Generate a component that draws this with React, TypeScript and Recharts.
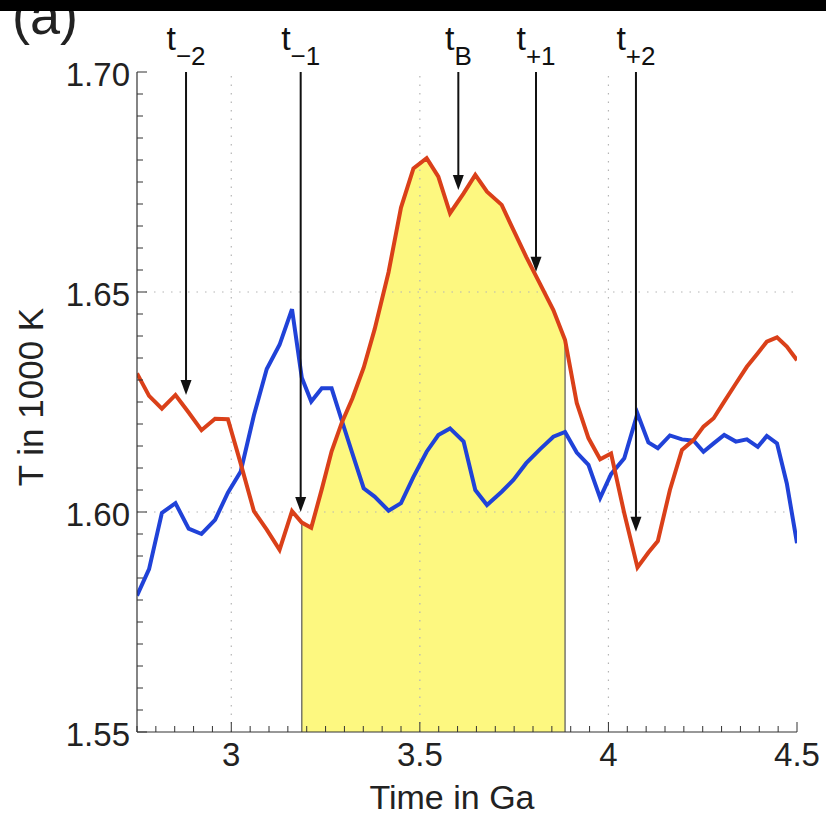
import React from "react";
import { ComposedChart, Line, Area, XAxis, YAxis, ReferenceLine } from "recharts";

// time in Ga (samples are not evenly spaced)
const time = [
  2.75, 2.782, 2.816, 2.852, 2.887, 2.921, 2.957, 2.991, 3.025, 3.06,
  3.094, 3.128, 3.161, 3.187, 3.212, 3.24, 3.266, 3.293, 3.321, 3.351,
  3.38, 3.417, 3.45, 3.483, 3.518, 3.549, 3.58, 3.616, 3.647, 3.678,
  3.717, 3.748, 3.782, 3.819, 3.854, 3.885, 3.916, 3.947, 3.978, 4.007,
  4.042, 4.077, 4.106, 4.131, 4.163, 4.195, 4.226, 4.252, 4.279, 4.307,
  4.338, 4.367, 4.396, 4.42, 4.447, 4.473, 4.5,
];

// T in 1000 K
const redT = [
  1.6315, 1.6264, 1.6235, 1.6266, 1.6226, 1.6186, 1.6212, 1.6211, 1.611, 1.6002,
  1.596, 1.5914, 1.6002, 1.5976, 1.5964, 1.6052, 1.6138, 1.6203, 1.6258, 1.6328,
  1.6415, 1.6545, 1.6692, 1.6781, 1.6804, 1.6762, 1.6679, 1.6724, 1.6766, 1.6728,
  1.6698, 1.6641, 1.658, 1.6518, 1.6459, 1.6391, 1.6248, 1.6168, 1.612, 1.6133,
  1.5997, 1.5874, 1.5908, 1.5934, 1.605, 1.6141, 1.6164, 1.6194, 1.6213, 1.6251,
  1.6292, 1.633, 1.6361, 1.6387, 1.6397, 1.6376, 1.6345,
];

const blueT = [
  1.581, 1.587, 1.5998, 1.602, 1.5962, 1.595, 1.5982, 1.6044, 1.6092, 1.622,
  1.6325, 1.638, 1.6461, 1.6305, 1.6251, 1.6281, 1.6281, 1.6208, 1.6133, 1.6054,
  1.6035, 1.6003, 1.602, 1.608, 1.6137, 1.6175, 1.619, 1.616, 1.605, 1.6016,
  1.6046, 1.6073, 1.6111, 1.6143, 1.6171, 1.6182, 1.6135, 1.6107, 1.6032, 1.6086,
  1.6122, 1.6224, 1.6158, 1.6145, 1.6174, 1.6165, 1.6162, 1.6137, 1.6156, 1.6175,
  1.616, 1.6165, 1.6148, 1.6173, 1.6156, 1.6065, 1.5929,
];

// shaded interval
const bandStart = 3.187;
const bandEnd = 3.885;

// arrows
const arrowLabels = ["\u22122", "\u22121", "B", "+1", "+2"];
const arrowTime = [2.88, 3.184, 3.602, 3.808, 4.073];
const arrowTipT = [1.6266, 1.6, 1.6732, 1.6546, 1.5955];

const xDomain = [2.75, 4.5];
const yDomain = [1.55, 1.7];
const xGrid = [3, 3.5, 4];
const yGrid = [1.6, 1.65];

const xTicks = Array.from({ length: 36 }, (_, i) => Math.round((2.75 + i * 0.05) * 1000) / 1000);
const yTicks = Array.from({ length: 31 }, (_, i) => Math.round((1.55 + i * 0.005) * 1000) / 1000);

const data = time.map((t, i) => ({
  t,
  red: redT[i],
  blue: blueT[i],
  band: t >= bandStart - 1e-9 && t <= bandEnd + 1e-9 ? redT[i] : null,
}));

const FONT = "'Liberation Sans', Arial, Helvetica, sans-serif";
const AXIS = "#333";
const RED = "#da4019";
const BLUE = "#2042d8";

const isMajorX = (v: number) => Math.abs(v * 2 - Math.round(v * 2)) < 1e-6;
const isMajorY = (v: number) => Math.abs(v * 20 - Math.round(v * 20)) < 1e-6;

const BottomTick = (props: any) => {
  const { x, y, payload } = props;
  const v = payload.value;
  const major = isMajorX(v);
  return (
    <g>
      <line x1={x} y1={y} x2={x} y2={y - (major ? 10 : 6)} stroke={AXIS} strokeWidth={1} />
      {major && v > 2.76 && (
        <text x={x} y={y + 11} dy="0.71em" textAnchor="middle" fontSize={33} fontFamily={FONT} fill="#222">
          {String(v)}
        </text>
      )}
    </g>
  );
};

const TopTick = (props: any) => {
  const { x, y, payload } = props;
  const major = isMajorX(payload.value);
  return <line x1={x} y1={y} x2={x} y2={y + (major ? 10 : 6)} stroke={AXIS} strokeWidth={1} />;
};

const LeftTick = (props: any) => {
  const { x, y, payload } = props;
  const v = payload.value;
  const major = isMajorY(v);
  return (
    <g>
      <line x1={x} y1={y} x2={x + (major ? 10 : 6)} y2={y} stroke={AXIS} strokeWidth={1} />
      {major && (
        <text x={x - 7} y={y + 2} dy="0.355em" textAnchor="end" fontSize={33} fontFamily={FONT} fill="#222">
          {v.toFixed(2)}
        </text>
      )}
    </g>
  );
};

const RightTick = (props: any) => {
  const { x, y, payload } = props;
  const major = isMajorY(payload.value);
  return <line x1={x} y1={y} x2={x - (major ? 10 : 6)} y2={y} stroke={AXIS} strokeWidth={1} />;
};

const YLabel = (props: any) => {
  const vb = props.viewBox || { x: 0, y: 72, width: 137, height: 660 };
  const cx = vb.x + 30;
  const cy = vb.y + vb.height / 2 - 5;
  return (
    <text
      x={cx}
      y={cy}
      transform={`rotate(-90 ${cx} ${cy})`}
      textAnchor="middle"
      dominantBaseline="central"
      fontSize={35}
      fontFamily={FONT}
      fill="#222"
    >
      T in 1000 K
    </text>
  );
};

const arrowShape = (sub: string) => (props: any) => {
  const { x1, y1, x2, y2 } = props;
  return (
    <g>
      <line x1={x1} y1={y1} x2={x2} y2={y2 - 12} stroke="#111" strokeWidth={2} />
      <polygon points={`${x2},${y2} ${x2 - 5.5},${y2 - 15} ${x2 + 5.5},${y2 - 15}`} fill="#111" />
      <text x={x1} y={y1 - 22} textAnchor="middle" fontFamily={FONT} fill="#111">
        <tspan fontSize={34}>t</tspan>
        <tspan fontSize={26} dy={15}>{sub}</tspan>
      </text>
    </g>
  );
};

export default function App() {
  const redAtStart = redT[time.indexOf(bandStart)];
  const redAtEnd = redT[time.indexOf(bandEnd)];
  return (
    <div style={{ position: "absolute", left: 0, top: 0, width: 826, height: 817, background: "#fff", overflow: "hidden" }}>
      <div
        style={{
          position: "absolute",
          left: 12,
          top: -15,
          fontFamily: FONT,
          fontSize: 54,
          lineHeight: "60px",
          color: "#222",
        }}
      >
        (a)
      </div>
      <div style={{ position: "absolute", left: 0, top: 0, width: 826, height: 11, background: "#000", zIndex: 1 }} />
      <div style={{ position: "absolute", left: 0, top: 0 }}>
        <ComposedChart width={826} height={817} data={data} margin={{ top: 72, right: 29, left: 0, bottom: 0 }}>
          {xGrid.map((g) => (
            <ReferenceLine key={"gx" + g} x={g} stroke="#b5b5b5" strokeWidth={1.2} strokeDasharray="1.5 7" />
          ))}
          {yGrid.map((g) => (
            <ReferenceLine key={"gy" + g} y={g} stroke="#b5b5b5" strokeWidth={1.2} strokeDasharray="1.5 7" />
          ))}
          <Area
            type="linear"
            dataKey="band"
            fill="#fdf880"
            fillOpacity={1}
            stroke="none"
            baseValue="dataMin"
            isAnimationActive={false}
            dot={false}
            activeDot={false}
          />
          <ReferenceLine
            segment={[{ x: bandStart, y: yDomain[0] }, { x: bandStart, y: redAtStart }]}
            stroke="#555"
            strokeWidth={1.2}
          />
          <ReferenceLine
            segment={[{ x: bandEnd, y: yDomain[0] }, { x: bandEnd, y: redAtEnd }]}
            stroke="#555"
            strokeWidth={1.2}
          />
          <Line type="linear" dataKey="blue" stroke={BLUE} strokeWidth={4} dot={false} activeDot={false} isAnimationActive={false} />
          <Line type="linear" dataKey="red" stroke={RED} strokeWidth={4} dot={false} activeDot={false} isAnimationActive={false} />
          {arrowTime.map((ax, i) => (
            <ReferenceLine
              key={"ar" + i}
              segment={[{ x: ax, y: yDomain[1] }, { x: ax, y: arrowTipT[i] }]}
              shape={arrowShape(arrowLabels[i])}
            />
          ))}
          <XAxis
            dataKey="t"
            type="number"
            domain={xDomain}
            ticks={xTicks}
            interval={0}
            allowDataOverflow
            height={85}
            tickSize={0}
            tickMargin={0}
            tick={BottomTick}
            axisLine={{ stroke: AXIS, strokeWidth: 1.2 }}
            label={{
              value: "Time in Ga",
              position: "insideBottom",
              offset: 8,
              dx: -15,
              fontSize: 34,
              fontFamily: FONT,
              fill: "#222",
            }}
          />
          <XAxis
            xAxisId="top"
            orientation="top"
            dataKey="t"
            type="number"
            domain={xDomain}
            ticks={xTicks}
            interval={0}
            allowDataOverflow
            height={0}
            tickSize={0}
            tickMargin={0}
            tick={TopTick}
            axisLine={{ stroke: AXIS, strokeWidth: 1.2 }}
          />
          <YAxis
            type="number"
            domain={yDomain}
            ticks={yTicks}
            interval={0}
            allowDataOverflow
            width={137}
            tickSize={0}
            tickMargin={0}
            tick={LeftTick}
            axisLine={{ stroke: AXIS, strokeWidth: 1.2 }}
            label={<YLabel />}
          />
          <YAxis
            yAxisId="right"
            orientation="right"
            type="number"
            domain={yDomain}
            ticks={yTicks}
            interval={0}
            allowDataOverflow
            width={0}
            tickSize={0}
            tickMargin={0}
            tick={RightTick}
            axisLine={{ stroke: AXIS, strokeWidth: 1.2 }}
          />
        </ComposedChart>
      </div>
    </div>
  );
}
